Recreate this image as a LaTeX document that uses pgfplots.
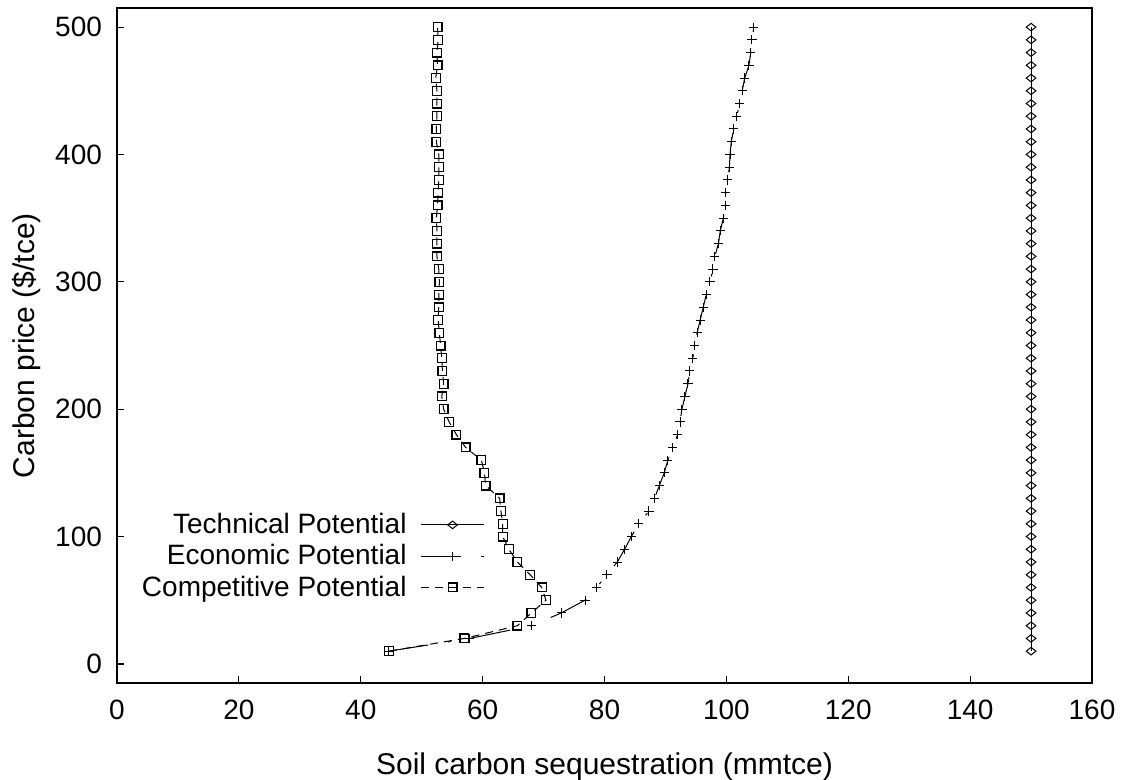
\documentclass[border=0pt]{standalone}
\usepackage{fontspec}
\setmainfont{Liberation Sans}
\usepackage{pgfplots}
\pgfplotsset{compat=1.18}

% y = carbon price, x = sequestration
\pgfplotstableread{
y x
10 150
20 150
30 150
40 150
50 150
60 150
70 150
80 150
90 150
100 150
110 150
120 150
130 150
140 150
150 150
160 150
170 150
180 150
190 150
200 150
210 150
220 150
230 150
240 150
250 150
260 150
270 150
280 150
290 150
300 150
310 150
320 150
330 150
340 150
350 150
360 150
370 150
380 150
390 150
400 150
410 150
420 150
430 150
440 150
450 150
460 150
470 150
480 150
490 150
500 150
}\technical

\pgfplotstableread{
y x
10 44.6
20 57.9
30 68.0
40 72.9
50 76.8
60 78.7
70 80.4
80 82.1
90 83.3
100 84.4
110 85.6
120 87.3
130 88.2
140 89.0
150 89.8
160 90.4
170 91.2
180 92.0
190 92.4
200 92.7
210 93.2
220 93.7
230 94.0
240 94.5
250 94.8
260 95.2
270 95.7
280 96.2
290 96.7
300 97.3
310 97.8
320 98.1
330 98.7
340 99.0
350 99.5
360 99.8
370 99.9
380 100.2
390 100.5
400 100.6
410 100.8
420 101.2
430 101.7
440 102.2
450 102.6
460 103.0
470 103.7
480 104.0
490 104.2
500 104.5
}\economic

\pgfplotstableread{
y x
10 44.6
20 57.0
30 65.7
40 68.0
50 70.4
60 69.7
70 67.8
80 65.7
90 64.3
100 63.3
110 63.3
120 63.0
130 62.8
140 60.5
150 60.3
160 59.8
170 57.2
180 55.7
190 54.5
200 53.6
210 53.3
220 53.6
230 53.4
240 53.3
250 53.1
260 52.9
270 52.7
280 52.8
290 52.8
300 52.9
310 52.8
320 52.5
330 52.5
340 52.5
350 52.4
360 52.6
370 52.7
380 52.8
390 52.8
400 52.8
410 52.4
420 52.4
430 52.5
440 52.5
450 52.5
460 52.3
470 52.6
480 52.5
490 52.7
500 52.6
}\competitive

\begin{document}
\begin{tikzpicture}
\path[use as bounding box] (0pt,0pt) rectangle (561pt,-390pt);
\begin{axis}[
    scale only axis,
    width=487.5pt,
    height=337.5pt,
    at={(58.5pt,-341.5pt)},
    anchor=south west,
    xmin=0, xmax=160,
    ymin=-15, ymax=515,
    xtick={0,20,...,160},
    ytick={0,100,...,500},
    tick align=inside,
    xtick pos=left,
    ytick pos=left,
    major tick length=3.5pt,
    axis line style={line width=0.75pt},
    tick style={line width=0.6pt,black},
    /pgf/number format/assume math mode=true,
    font=\fontsize{14}{15}\selectfont,
    ticklabel style={font=\fontsize{14}{15}\selectfont},
    xticklabel style={yshift=-5pt},
    yticklabel style={xshift=-4pt},
    xlabel={Soil carbon sequestration (mmtce)},
    ylabel={Carbon price (\$/tce)},
    label style={font=\fontsize{15}{17}\selectfont},
    xlabel style={at={(axis description cs:0.5,-0.1245)},anchor=center},
    ylabel style={at={(axis description cs:-0.0923,0.5)},anchor=center,rotate=0},
    legend cell align=right,
    legend plot pos=right,
    legend style={draw=none,fill=none,at={(0.3774,0.258)},anchor=north east,
        inner sep=0pt,row sep=0pt,column sep=5pt,font=\fontsize{14}{15}\selectfont},
    legend image code/.code={\draw[mark repeat=2,mark phase=2,#1]
        plot coordinates {(0pt,0pt) (15.75pt,0pt) (31.5pt,0pt)};},
]
\addplot[black,line width=0.5pt,mark=diamond,mark size=1.9pt,
    mark options={solid,xscale=1.7,line width=0.5pt}]
    table[x=x,y=y] {\technical};
\addplot[black,line width=0.5pt,dash pattern=on 20pt off 10pt on 1.5pt off 10pt,
    mark=+,mark size=2.3pt,mark options={solid,line width=0.5pt}]
    table[x=x,y=y] {\economic};
\addplot[black,line width=0.5pt,dash pattern=on 4pt off 3pt,
    mark=square,mark size=2.2pt,mark options={solid,line width=0.6pt}]
    table[x=x,y=y] {\competitive};
\legend{Technical Potential,Economic Potential,Competitive Potential}
\end{axis}
\end{tikzpicture}
\end{document}
